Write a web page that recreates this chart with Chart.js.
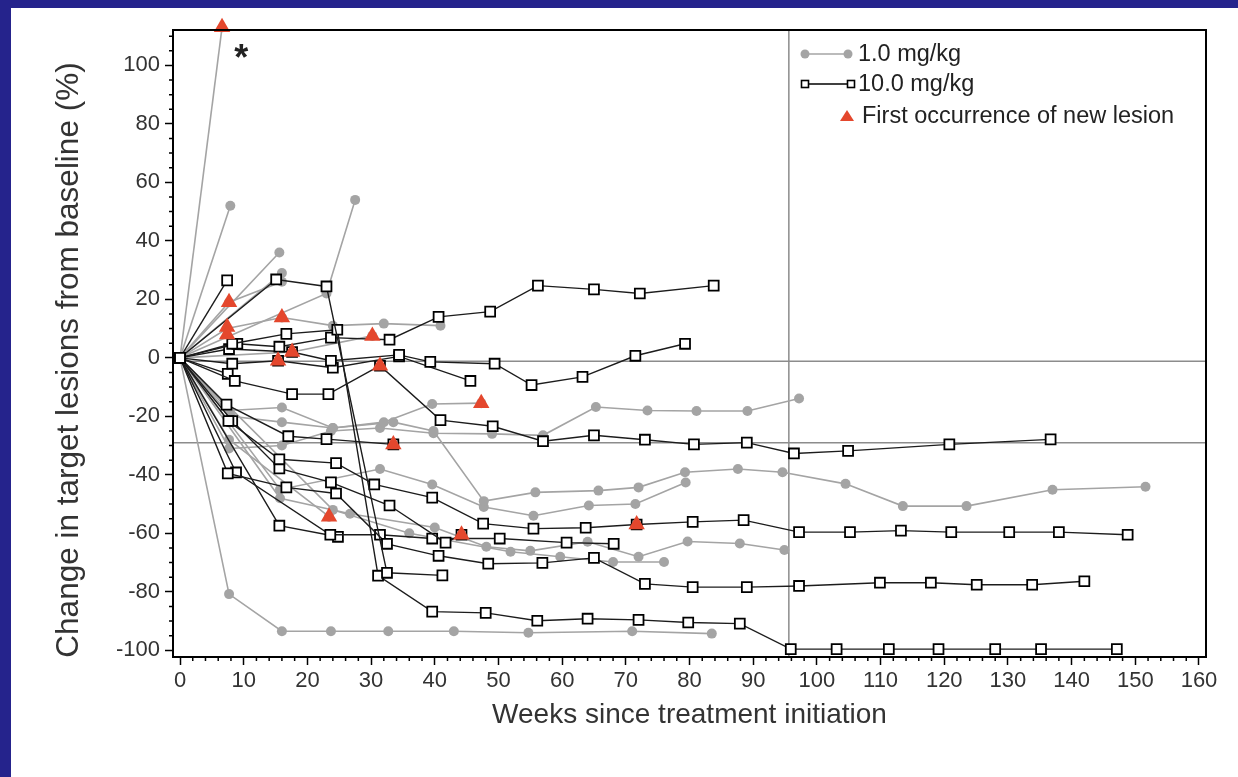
<!DOCTYPE html>
<html>
<head>
<meta charset="utf-8">
<script src="https://cdn.jsdelivr.net/npm/chart.js@4.4.1/dist/chart.umd.min.js"></script>
<style>
  html, body { margin: 0; padding: 0; background: #25238c; }
  #panel { position: absolute; left: 11px; top: 8px; width: 1227px; height: 769px; background: #fff; }
</style>
</head>
<body>
<div id="panel"><canvas id="spider" width="1227" height="769"></canvas></div>
<script>
// 1.0 mg/kg patients: [week, % change]
const low01 = [[0, 0], [6.6, 113]];
const low02 = [[0, 0], [7.9, 52]];
const low03 = [[0, 0], [23, 22], [27.5, 54]];
const low04 = [[0, 0], [15.6, 36]];
const low05 = [[0, 0], [7.7, 19], [16, 26]];
const low06 = [[0, 0], [16, 29]];
const low07 = [[0, 0], [7.4, 10], [16, 13.8], [24, 11], [32, 11.7], [40.9, 11]];
const low08 = [[0, 0], [17.6, 2], [30.2, 7.5]];
const low09 = [[0, 0], [8, -20], [16, -22], [24, -24], [32, -22], [39.6, -15.8], [47.3, -15.5]];
const low10 = [[0, 0], [7.7, -31], [16, -30], [23.7, -25], [31.4, -24], [39.8, -25.8], [49, -26], [57, -26.5],
               [65.3, -16.8], [73.4, -18], [81.1, -18.2], [89.1, -18.2], [97.2, -13.9]];
const low11 = [[0, 0], [7.7, -18], [16, -17], [24, -24], [33.5, -22], [39.8, -25], [47.7, -49], [55.8, -46],
               [65.7, -45.4], [72, -44.3], [79.3, -39.1], [87.6, -38], [94.6, -39.1], [104.5, -43.1],
               [113.5, -50.7], [123.5, -50.7], [137, -45.1], [151.6, -44.1]];
const low12 = [[0, 0], [15.7, -45], [31.4, -38], [39.6, -43.3], [47.7, -51], [55.5, -54], [64.2, -50.5],
               [71.5, -50], [79.4, -42.6]];
const low13 = [[0, 0], [15.7, -48], [26.7, -53.3], [40, -58], [48.1, -64.6], [55, -66], [64, -62.9],
               [72, -68], [79.7, -62.8], [87.9, -63.5], [94.9, -65.7]];
const low14 = [[0, 0], [24, -52], [36, -60], [51.9, -66.3], [59.7, -68], [68, -69.8], [76, -69.8]];
const low15 = [[0, 0], [7.7, -28], [23.4, -54.3]];
const low16 = [[0, 0], [7.7, -80.8], [16, -93.5], [23.7, -93.5], [32.7, -93.5], [43, -93.5], [54.7, -94],
               [71, -93.5], [83.5, -94.3]];

// 10.0 mg/kg patients
const high01 = [[0, 0], [7.4, 26.5]];
const high02 = [[0, 0], [15.1, 26.8], [23, 24.4], [32.5, -73.5], [41.2, -74.4]];
const high03 = [[0, 0], [8.2, 4.8], [16.7, 8.2], [24.7, 9.6], [31.1, -74.5], [39.6, -86.8], [48, -87.2],
                [56.1, -89.9], [64, -89.2], [72, -89.6], [79.8, -90.5], [87.9, -90.9], [95.9, -99.6],
                [103.1, -99.6], [111.3, -99.6], [119.1, -99.6], [128, -99.6], [135.2, -99.6], [147.1, -99.6]];
const high04 = [[0, 0], [9, 4.8], [15.6, 3.8], [23.7, 6.9], [32.9, 6.2], [40.6, 14], [48.7, 15.8],
                [56.2, 24.7], [65, 23.4], [72.2, 22], [83.8, 24.7]];
const high05 = [[0, 0], [7.7, 3], [17.6, 2], [23.7, -1], [34.4, 1], [39.3, -1.4], [49.4, -2], [55.2, -9.3],
                [63.2, -6.5], [71.5, 0.7], [79.3, 4.8]];
const high06 = [[0, 0], [8.2, -2], [15.4, -1], [24, -3.4], [34.4, 0.5], [45.6, -7.9]];
const high07 = [[0, 0], [8.6, -7.9], [17.6, -12.4], [23.3, -12.4], [31.4, -2.7], [40.9, -21.3], [49.1, -23.4],
                [57, -28.5], [65, -26.5], [73, -28], [80.7, -29.6], [89, -29], [96.4, -32.7], [104.9, -31.8],
                [120.8, -29.6], [136.7, -27.9]];
const high08 = [[0, 0], [7.3, -16], [17, -26.8], [23, -27.8], [33.5, -29.6]];
const high09 = [[0, 0], [7.6, -21.6], [15.6, -34.7], [24.5, -36], [30.5, -43.3], [39.6, -47.8], [47.6, -56.7],
                [55.5, -58.4], [63.7, -58.1], [71.7, -57], [80.5, -56.1], [88.5, -55.5], [97.2, -59.6],
                [105.2, -59.6], [113.2, -59.1], [121.1, -59.6], [130.2, -59.6], [138, -59.6], [148.8, -60.5]];
const high10 = [[0, 0], [8.2, -21.6], [15.6, -37.8], [23.7, -42.6], [32.9, -50.5], [41.7, -63.2], [44.2, -60.5]];
const high11 = [[0, 0], [7.5, -39.5], [16.7, -44.3], [24.5, -46.4], [32.5, -63.6], [40.6, -67.7], [48.4, -70.4],
                [56.9, -70.1], [65, -68.4], [73, -77.3], [80.5, -78.4], [89, -78.4], [97.2, -78], [109.9, -76.9],
                [117.9, -76.9], [125.1, -77.6], [133.8, -77.6], [142, -76.4]];
const high12 = [[0, 0], [8.8, -39.2], [23.6, -60.5], [31.4, -60.5], [39.6, -61.8], [50.2, -61.8],
                [60.7, -63.2], [68.1, -63.6]];
const high13 = [[0, 0], [15.6, -57.4], [24.8, -61.2]];
const high14 = [[0, 0], [7.5, -5.5]];

// first occurrence of new lesion
const newLesion = [[6.6, 113], [7.7, 19], [7.4, 10.5], [7.4, 8], [16, 13.8], [17.6, 2], [15.4, -1],
                   [30.2, 7.5], [31.4, -2.7], [47.3, -15.5], [33.5, -29.6], [23.4, -54.3], [44.2, -60.5],
                   [71.7, -57]];

const lowDose = [low01, low02, low03, low04, low05, low06, low07, low08, low09, low10, low11, low12,
                 low13, low14, low15, low16];
const highDose = [high01, high02, high03, high04, high05, high06, high07, high08, high09, high10,
                  high11, high12, high13, high14];

const xTicks = [0, 10, 20, 30, 40, 50, 60, 70, 80, 90, 100, 110, 120, 130, 140, 150, 160];
const yTicks = [-100, -80, -60, -40, -20, 0, 20, 40, 60, 80, 100];
const refWeek = 95.6;
const refLevels = [-1.2, -29];

const GRAY = '#a4a4a4';
const RED = '#e4472d';
const FONT = '"Liberation Sans", Arial, sans-serif';

const toXY = arr => arr.map(p => ({ x: p[0], y: p[1] }));

// order: higher is drawn first, so gray at the bottom, triangles on top
const datasets = [];
lowDose.forEach(p => datasets.push({
    data: toXY(p), showLine: true, order: 3,
    borderColor: GRAY, borderWidth: 1.6,
    pointStyle: 'circle', pointRadius: 5,
    pointBackgroundColor: GRAY, pointBorderWidth: 0
}));
highDose.forEach(p => datasets.push({
    data: toXY(p), showLine: true, order: 2,
    borderColor: '#1c1c1c', borderWidth: 1.4,
    pointStyle: 'rect', pointRadius: 7,
    pointBackgroundColor: '#fff', pointBorderColor: '#000', pointBorderWidth: 1.8
}));
datasets.push({
    data: toXY(newLesion), showLine: false, clip: false, order: 1,
    pointStyle: 'triangle', pointRadius: 9.5,
    pointBackgroundColor: RED, pointBorderColor: RED, pointBorderWidth: 0
});

// reference lines, box, minor ticks, y title, legend and asterisk
const decorations = {
    id: 'decorations',
    beforeDatasetsDraw(chart) {
        const { ctx, chartArea: a, scales: { x, y } } = chart;
        ctx.save();
        ctx.strokeStyle = '#8c8c8c';
        ctx.lineWidth = 1.5;
        ctx.beginPath();
        const vx = x.getPixelForValue(refWeek);
        ctx.moveTo(vx, a.top); ctx.lineTo(vx, a.bottom);
        refLevels.forEach(v => {
            const py = y.getPixelForValue(v);
            ctx.moveTo(a.left, py); ctx.lineTo(a.right, py);
        });
        ctx.stroke();
        ctx.restore();
    },
    afterDraw(chart) {
        const { ctx, chartArea: a, scales: { x, y } } = chart;
        ctx.save();
        ctx.strokeStyle = '#000';
        ctx.lineWidth = 2;
        ctx.strokeRect(a.left, a.top, a.right - a.left, a.bottom - a.top);

        // minor ticks
        ctx.lineWidth = 1.5;
        ctx.beginPath();
        for (let v = -100; v <= 110; v += 5) {
            if (v % 20 === 0) continue;
            const py = y.getPixelForValue(v);
            ctx.moveTo(a.left - 4, py); ctx.lineTo(a.left, py);
        }
        for (let v = 2; v < 160; v += 2) {
            if (v % 10 === 0) continue;
            const px = x.getPixelForValue(v);
            ctx.moveTo(px, a.bottom); ctx.lineTo(px, a.bottom + 4);
        }
        ctx.stroke();

        // y axis title
        ctx.save();
        ctx.translate(58, 352);
        ctx.rotate(-Math.PI / 2);
        ctx.fillStyle = '#333';
        ctx.font = '31.5px ' + FONT;
        ctx.textAlign = 'center';
        ctx.textBaseline = 'middle';
        ctx.fillText('Change in target lesions from baseline (%)', 0, 0);
        ctx.restore();

        // asterisk
        ctx.fillStyle = '#222';
        ctx.font = 'bold 36px ' + FONT;
        ctx.textAlign = 'center';
        ctx.textBaseline = 'middle';
        ctx.fillText('*', x.getPixelForValue(9.6), a.top + 30);

        // legend
        const lx = 794, tx = 847;
        ctx.font = '23.5px ' + FONT;
        ctx.textAlign = 'left';
        // row 1
        let ly = 46;
        ctx.strokeStyle = GRAY; ctx.lineWidth = 1.6;
        ctx.beginPath(); ctx.moveTo(lx, ly); ctx.lineTo(lx + 43, ly); ctx.stroke();
        ctx.fillStyle = GRAY;
        [lx, lx + 43].forEach(cx => { ctx.beginPath(); ctx.arc(cx, ly, 4.5, 0, Math.PI * 2); ctx.fill(); });
        ctx.fillStyle = '#222';
        ctx.fillText('1.0 mg/kg', tx, ly + 1);
        // row 2
        ly = 76;
        ctx.strokeStyle = '#000'; ctx.lineWidth = 1.4;
        ctx.beginPath(); ctx.moveTo(lx, ly); ctx.lineTo(lx + 46, ly); ctx.stroke();
        ctx.fillStyle = '#fff'; ctx.lineWidth = 1.6;
        [lx, lx + 46].forEach(cx => { ctx.fillRect(cx - 3.5, ly - 3.5, 7, 7); ctx.strokeRect(cx - 3.5, ly - 3.5, 7, 7); });
        ctx.fillStyle = '#222';
        ctx.fillText('10.0 mg/kg', tx, ly + 1);
        // row 3
        ly = 108;
        ctx.fillStyle = RED;
        ctx.beginPath();
        ctx.moveTo(836, ly - 6); ctx.lineTo(843, ly + 5); ctx.lineTo(829, ly + 5); ctx.closePath(); ctx.fill();
        ctx.fillStyle = '#222';
        ctx.fillText('First occurrence of new lesion', 851, ly + 1);
        ctx.restore();
    }
};

new Chart(document.getElementById('spider'), {
    type: 'scatter',
    data: { datasets },
    options: {
        responsive: false,
        animation: false,
        devicePixelRatio: 1,
        layout: { padding: { left: 0, top: 22, right: 32, bottom: 0 } },
        plugins: { legend: { display: false }, tooltip: { enabled: false } },
        scales: {
            x: {
                type: 'linear', min: -1.1, max: 161.1,
                afterFit: s => { s.height = 120; },
                afterBuildTicks: s => { s.ticks = xTicks.map(v => ({ value: v })); },
                grid: { drawOnChartArea: false, tickLength: 8, tickColor: '#000', tickWidth: 1.5 },
                border: { display: true, color: '#000', width: 2 },
                ticks: { color: '#333', padding: 3, font: { family: FONT, size: 22 }, maxRotation: 0 },
                title: {
                    display: true, text: 'Weeks since treatment initiation', color: '#333',
                    font: { family: FONT, size: 28 }, padding: { bottom: 45 }
                }
            },
            y: {
                type: 'linear', min: -102.3, max: 112.1,
                afterFit: s => { s.width = 162; },
                afterBuildTicks: s => { s.ticks = yTicks.map(v => ({ value: v })); },
                grid: { drawOnChartArea: false, tickLength: 8, tickColor: '#000', tickWidth: 1.5 },
                border: { display: true, color: '#000', width: 2 },
                ticks: { color: '#333', padding: 5, font: { family: FONT, size: 22 } }
            }
        }
    },
    plugins: [decorations]
});
</script>
</body>
</html>
